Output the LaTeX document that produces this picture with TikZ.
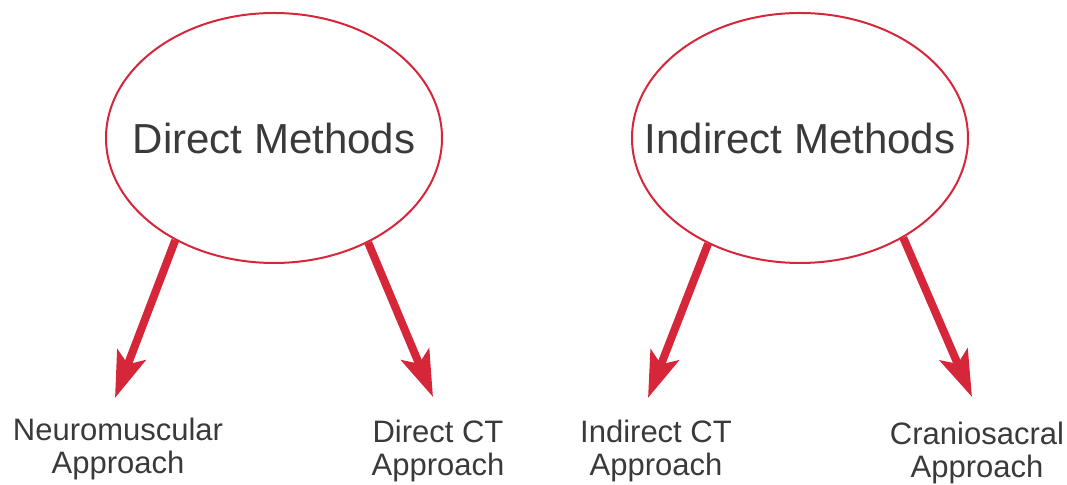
\documentclass[tikz,border=0pt]{standalone}
\usepackage{fontspec}
\setmainfont{Liberation Sans}
\usepackage{tikz}
\usetikzlibrary{positioning}
\usetikzlibrary{shapes.geometric}
\usetikzlibrary{arrows.meta}

\definecolor{methodred}{RGB}{214,38,58}
\definecolor{inkgray}{RGB}{58,58,58}

\begin{document}
\begin{tikzpicture}[x=0.5pt, y=-0.5pt,
    method/.style={draw=methodred, line width=1pt, ellipse, inner sep=0pt,
      minimum width=168pt, minimum height=125pt},
    methodtext/.style={text=inkgray, font=\fontsize{21}{24}\selectfont},
    approach/.style={anchor=north, align=center, inner sep=0pt, text=inkgray,
      font=\fontsize{15.5}{16.5}\selectfont},
    branch/.style={-{Stealth[length=23pt, width=15pt, inset=5pt]},
      draw=methodred, line width=4pt}]
  \useasboundingbox (0,0) rectangle (1067,485);

  % the text sits as a centre label so the ellipse keeps its own size
  \node[method, label={[methodtext]center:Direct Methods}] (dm) at (274,138) {};
  \node[method, label={[methodtext]center:Indirect Methods}] (im) at (800,138) {};

  \coordinate (nmtip) at (115,398);
  \coordinate (dcttip) at (433,397);
  \coordinate (icttip) at (648,398);
  \coordinate (cstip) at (972,397);

  \node[approach] (nm) at (118,418) {Neuromuscular\\Approach};
  \node[approach] (dct) at (438,420) {Direct CT\\Approach};
  \node[approach] (ict) at (656,420) {Indirect CT\\Approach};
  \node[approach] (cs) at (977,422) {Craniosacral\\Approach};

  \draw[branch] (dm.226) -- (nmtip);
  \draw[branch] (dm.312) -- (dcttip);
  \draw[branch] (im.229) -- (icttip);
  \draw[branch] (im.316) -- (cstip);
\end{tikzpicture}
\end{document}
